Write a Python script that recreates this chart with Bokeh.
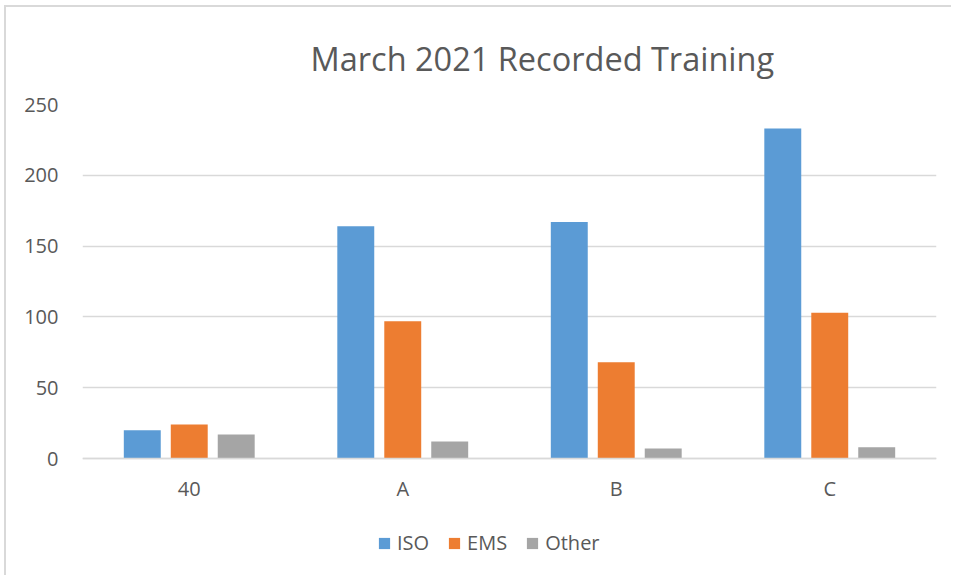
from bokeh.plotting import figure
from bokeh.models import ColumnDataSource, FactorRange, Range1d, Legend, LegendItem
from bokeh.transform import dodge
from bokeh.embed import file_html
from bokeh.resources import INLINE

categories = ["40", "A", "B", "C"]
series_names = ["ISO", "EMS", "Other"]
iso = [20, 164, 167, 233]
ems = [24, 97, 68, 103]
other = [17, 12, 7, 8]
colors = ["#5B9BD5", "#ED7D31", "#A5A5A5"]
y_ticks = [0, 50, 100, 150, 200, 250]
title_text = "March 2021 Recorded Training"

FONT = "Open Sans"
TXT = "#595959"
GRID = "#D9D9D9"

# frame extends below zero to hold axis labels and legend (pixel geometry)
Y_TOP = 250
Y_BOTTOM = -250 * 117 / 354

src = ColumnDataSource(dict(cat=categories, ISO=iso, EMS=ems, Other=other))

p = figure(width=947, height=570, x_range=FactorRange(*categories, range_padding=0),
           y_range=Range1d(Y_BOTTOM, Y_TOP), output_backend="svg", toolbar_location=None,
           min_border_left=76, min_border_right=17, min_border_top=97, min_border_bottom=2)

p.title.text = title_text
p.title.text_font = FONT
p.title.text_font_size = "32.5px"
p.title.text_font_style = "normal"
p.title.text_color = TXT
p.title.align = "left"
p.title.offset = 228
p.title.standoff = 47

offsets = [-0.22, 0.0, 0.22]
renderers = []
for name, c, off in zip(series_names, colors, offsets):
    r = p.vbar(x=dodge("cat", off, range=p.x_range), top=name, bottom=0, width=0.173,
               source=src, fill_color=c, line_color=None)
    renderers.append(r)

p.outline_line_color = None
p.xgrid.grid_line_color = None
p.ygrid.grid_line_color = GRID
p.ygrid.grid_line_width = 1.5
p.yaxis.ticker = y_ticks
p.yaxis.axis_line_color = None
p.yaxis.major_tick_line_color = None
p.yaxis.minor_tick_line_color = None
p.yaxis.major_label_text_font = FONT
p.yaxis.major_label_text_font_size = "20px"
p.yaxis.major_label_text_color = TXT
p.yaxis.major_label_standoff = 18

p.xaxis.fixed_location = 0
p.xaxis.axis_line_color = GRID
p.xaxis.axis_line_width = 1.5
p.xaxis.major_tick_line_color = None
p.xaxis.minor_tick_line_color = None
p.xaxis.major_label_text_font = FONT
p.xaxis.major_label_text_font_size = "20px"
p.xaxis.major_label_text_color = TXT
p.xaxis.major_label_standoff = 10

legend = Legend(items=[LegendItem(label=n, renderers=[r]) for n, r in zip(series_names, renderers)],
                orientation="horizontal", location=(295, 19))
legend.label_text_font = FONT
legend.label_text_font_size = "20px"
legend.label_text_color = TXT
legend.glyph_width = 14
legend.glyph_height = 14
legend.label_standoff = 6
legend.spacing = 18
legend.border_line_color = None
legend.background_fill_alpha = 0
legend.margin = 0
legend.padding = 0
p.add_layout(legend, "center")

p.styles = {"position": "relative", "left": "4px", "top": "5px",
            "border-left": "2px solid #D9D9D9", "border-top": "2px solid #D9D9D9"}

open("out.html", "w").write(file_html(p, INLINE))
